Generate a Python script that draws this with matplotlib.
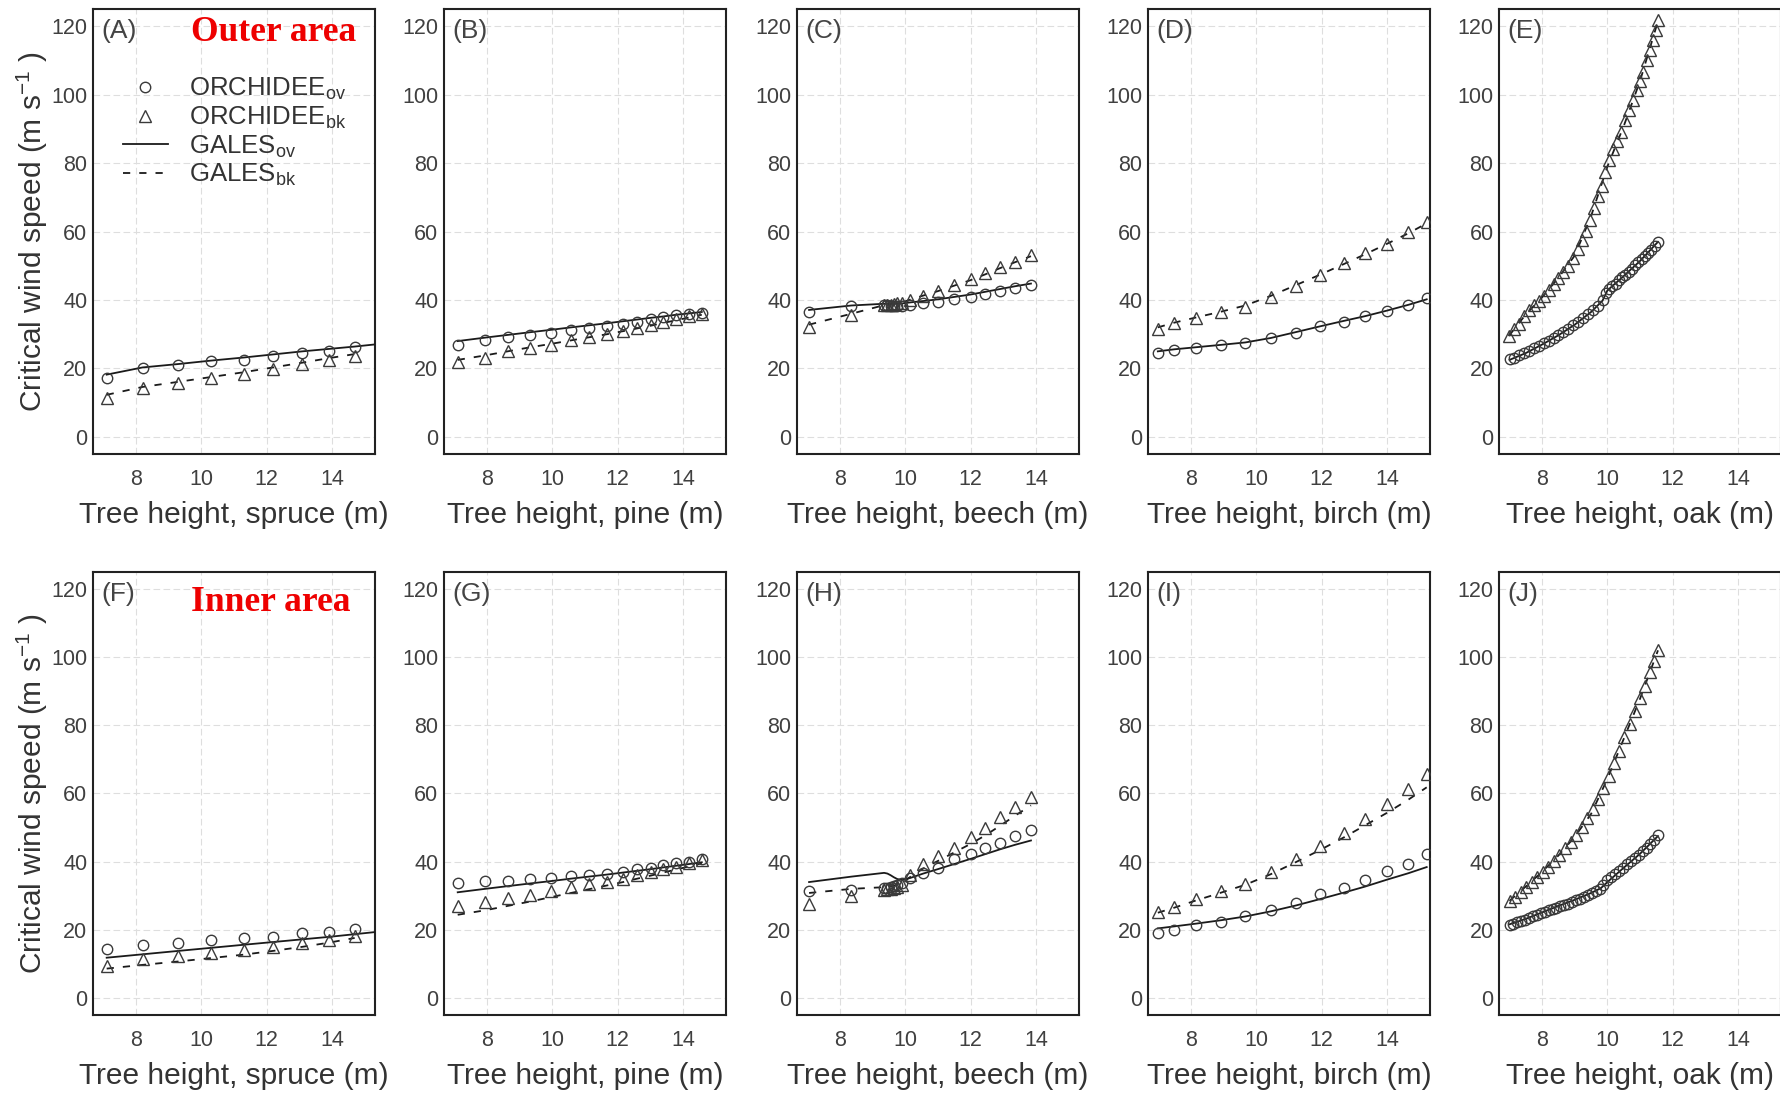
import matplotlib
matplotlib.use('Agg')
import matplotlib.pyplot as plt
from matplotlib.lines import Line2D

plt.rcParams['font.family'] = ['Liberation Sans', 'DejaVu Sans']
plt.rcParams['mathtext.fontset'] = 'custom'
plt.rcParams['mathtext.rm'] = 'Liberation Sans'
plt.rcParams['mathtext.it'] = 'Liberation Sans:italic'

# ---------------- data ----------------
# spruce
spruce_h = [7.1, 8.2, 9.3, 10.3, 11.3, 12.2, 13.1, 13.9, 14.7]
spruce_gales_h = [7.1, 8.2, 9.3, 10.3, 11.3, 12.2, 13.1, 13.9, 14.7, 15.4]
A_orc_ov = [17.1, 20.2, 20.9, 22.1, 22.6, 23.6, 24.5, 25.0, 26.3]
A_orc_bk = [11.4, 14.3, 15.8, 17.1, 18.5, 19.9, 21.3, 22.6, 23.7]
A_gales_ov = [18.2, 20.3, 21.3, 22.3, 23.2, 24.1, 25.0, 25.7, 26.4, 27.1]
A_gales_bk = [12.3, 14.6, 16.1, 17.5, 18.9, 20.3, 21.7, 23.0, 24.2]
F_orc_ov = [14.5, 15.5, 16.2, 17.0, 17.5, 18.0, 19.0, 19.4, 20.1]
F_orc_bk = [9.3, 11.3, 12.3, 13.1, 14.2, 15.0, 16.0, 17.0, 18.2]
F_gales_ov = [11.8, 12.8, 13.8, 14.7, 15.6, 16.4, 17.2, 17.9, 18.7, 19.4]
F_gales_bk = [8.6, 9.7, 10.7, 11.7, 12.7, 13.8, 15.0, 16.2, 17.6]

# pine
pine_h = [7.1, 7.93, 8.63, 9.33, 9.97, 10.57, 11.12, 11.67, 12.17, 12.6, 13.02, 13.4, 13.8, 14.2, 14.58]
B_orc_ov = [27.0, 28.2, 29.2, 29.9, 30.3, 31.3, 31.8, 32.3, 33.1, 33.7, 34.4, 35.0, 35.7, 36.0, 36.2]
B_orc_bk = [21.8, 23.1, 25.0, 26.0, 27.0, 28.2, 29.2, 30.0, 31.0, 31.8, 32.8, 33.7, 34.5, 35.2, 35.9]
B_gales_ov = [28.0, 29.0, 29.8, 30.6, 31.3, 32.0, 32.6, 33.2, 33.8, 34.3, 34.8, 35.2, 35.7, 36.1, 36.5]
B_gales_bk = [22.5, 23.8, 25.0, 26.2, 27.2, 28.2, 29.1, 30.0, 30.9, 31.7, 32.5, 33.3, 34.1, 34.9, 35.7]
G_orc_ov = [33.8, 34.3, 34.3, 35.0, 35.3, 35.8, 36.0, 36.5, 37.0, 37.7, 38.2, 38.9, 39.5, 40.0, 40.7]
G_orc_bk = [27.1, 28.1, 29.4, 30.3, 31.5, 32.5, 33.3, 34.0, 35.0, 36.0, 36.9, 37.7, 38.5, 39.5, 40.4]
G_gales_ov = [31.0, 32.0, 32.8, 33.6, 34.3, 35.0, 35.6, 36.2, 36.8, 37.3, 37.8, 38.3, 38.8, 39.3, 39.8]
G_gales_bk = [24.4, 25.7, 27.0, 28.3, 29.6, 30.8, 31.9, 33.0, 34.0, 35.0, 35.9, 36.8, 37.7, 38.6, 39.5]

# beech
beech_h = [7.05, 8.35, 9.35, 9.45, 9.55, 9.65, 9.75, 9.9, 10.15, 10.55, 11.0, 11.5, 12.0, 12.45, 12.9, 13.35, 13.85]
C_orc_ov = [36.4, 38.3, 38.5, 38.4, 38.3, 38.2, 38.2, 38.3, 38.6, 39.0, 39.5, 40.3, 41.0, 41.8, 42.7, 43.6, 44.4]
C_orc_bk = [32.0, 35.7, 38.4, 38.5, 38.6, 38.8, 39.0, 39.2, 40.0, 41.3, 42.6, 44.4, 46.0, 47.8, 49.7, 51.2, 53.1]
C_gales_ov = [37.1, 38.4, 38.9, 38.9, 38.9, 38.9, 38.9, 39.0, 39.3, 39.7, 40.2, 40.9, 41.6, 42.4, 43.2, 44.0, 44.8]
C_gales_bk = [32.8, 36.0, 38.5, 38.6, 38.7, 38.8, 39.0, 39.3, 40.1, 41.3, 42.6, 44.2, 45.8, 47.5, 49.3, 51.0, 52.8]
H_orc_ov = [31.5, 31.8, 32.3, 32.4, 32.5, 32.7, 33.0, 33.6, 35.3, 36.7, 38.2, 40.7, 42.2, 44.1, 45.4, 47.6, 49.4]
H_orc_bk = [27.6, 29.9, 31.8, 31.9, 32.0, 32.2, 32.5, 33.2, 36.0, 39.2, 41.7, 44.1, 47.1, 50.0, 53.0, 56.0, 58.9]
H_gales_ov = [34.0, 35.6, 36.7, 36.5, 36.0, 35.4, 34.9, 34.6, 35.2, 36.5, 37.8, 39.3, 40.8, 42.2, 43.6, 44.9, 46.2]
H_gales_bk = [30.8, 32.0, 32.5, 32.6, 32.7, 32.9, 33.2, 33.8, 35.5, 38.0, 40.2, 42.7, 45.2, 47.7, 50.5, 53.4, 56.5]

# birch
birch_h = [6.98, 7.49, 8.15, 8.92, 9.66, 10.44, 11.2, 11.95, 12.68, 13.34, 14.0, 14.66, 15.22]
D_orc_ov = [24.5, 25.5, 26.0, 26.9, 27.4, 28.9, 30.5, 32.3, 33.7, 35.2, 36.8, 38.6, 40.5]
D_orc_bk = [31.6, 33.2, 34.7, 36.4, 38.1, 41.0, 44.2, 47.3, 50.7, 53.6, 56.5, 59.9, 62.8]
D_gales_ov = [25.0, 25.6, 26.2, 26.9, 27.6, 28.9, 30.6, 32.3, 33.9, 35.3, 36.9, 38.6, 40.2]
D_gales_bk = [32.0, 33.4, 34.9, 36.6, 38.4, 41.2, 44.3, 47.4, 50.5, 53.4, 56.4, 59.5, 62.4]
I_orc_ov = [19.0, 20.0, 21.4, 22.4, 24.0, 25.9, 27.8, 30.6, 32.2, 34.5, 37.1, 39.4, 42.1]
I_orc_bk = [25.1, 26.6, 29.0, 31.3, 33.5, 36.9, 40.8, 44.5, 48.3, 52.4, 56.8, 61.4, 65.6]
I_gales_ov = [20.4, 21.0, 21.8, 22.8, 23.9, 25.4, 27.1, 29.0, 30.9, 32.7, 34.7, 36.6, 38.4]
I_gales_bk = [25.0, 26.5, 28.6, 30.9, 33.2, 36.3, 39.8, 43.4, 47.1, 50.7, 54.3, 58.2, 61.8]

# oak, outer area
E_ov_h = [7.0, 7.15, 7.3, 7.45, 7.6, 7.75, 7.9, 8.05, 8.2, 8.35, 8.5, 8.65, 8.8, 8.95, 9.1, 9.25, 9.4,
          9.55, 9.7, 9.85, 9.95, 10.05, 10.15, 10.25, 10.35, 10.45, 10.55, 10.65, 10.75, 10.85, 10.95,
          11.05, 11.15, 11.25, 11.35, 11.45, 11.55]
E_orc_ov = [22.7, 23.2, 23.8, 24.5, 25.1, 25.9, 26.6, 27.3, 28.1, 28.9, 29.8, 30.7, 31.6, 32.6, 33.6, 34.7, 35.8,
            37.0, 38.3, 40.0, 42.0, 43.2, 44.0, 44.8, 45.7, 46.6, 47.4, 48.3, 49.2, 50.1, 51.0,
            51.9, 52.8, 53.7, 54.7, 55.8, 57.0]
E_bk_h = [6.98, 7.15, 7.3, 7.45, 7.6, 7.75, 7.9, 8.05, 8.2, 8.35, 8.5, 8.65, 8.8, 8.95, 9.1, 9.22, 9.34, 9.46,
          9.58, 9.7, 9.82, 9.94, 10.06, 10.18, 10.3, 10.42, 10.54, 10.66, 10.78, 10.9, 11.0, 11.1, 11.2,
          11.3, 11.4, 11.48, 11.56]
E_orc_bk = [29.5, 31.4, 33.1, 35.2, 37.0, 38.5, 39.8, 41.3, 43.0, 44.8, 46.5, 48.3, 50.0, 52.3, 55.0, 57.5, 60.2, 63.5,
            67.0, 70.5, 73.3, 77.3, 81.0, 84.1, 86.5, 89.0, 92.5, 95.5, 98.4, 101.5, 104.0, 106.7, 110.0,
            113.0, 116.0, 119.0, 121.8]
E_gales_ov_h = [7.0, 7.5, 8.0, 8.5, 9.0, 9.5, 9.85, 10.0, 10.5, 11.0, 11.55]
E_gales_ov = [22.5, 24.5, 27.0, 29.7, 32.8, 36.5, 39.8, 42.8, 47.0, 51.4, 57.0]
E_gales_bk_h = [6.98, 7.5, 8.0, 8.5, 9.0, 9.5, 10.0, 10.5, 11.0, 11.56]
E_gales_bk = [29.5, 35.8, 40.8, 46.5, 53.0, 64.5, 79.0, 90.8, 104.0, 121.8]

# oak, inner area
J_ov_h = [7.0, 7.12, 7.24, 7.36, 7.48, 7.6, 7.72, 7.84, 7.96, 8.08, 8.2, 8.32, 8.44, 8.56, 8.68, 8.8, 8.92,
          9.04, 9.16, 9.28, 9.4, 9.52, 9.64, 9.76, 9.88, 10.0, 10.12, 10.24, 10.36, 10.48, 10.6, 10.72,
          10.84, 10.96, 11.08, 11.2, 11.32, 11.44, 11.55]
J_orc_ov = [21.4, 21.8, 22.2, 22.6, 23.0, 23.5, 23.9, 24.4, 24.8, 25.3, 25.7, 26.1, 26.5, 26.9, 27.3, 27.7, 28.2,
            28.6, 29.1, 29.7, 30.2, 30.8, 31.3, 32.1, 33.2, 34.5, 35.4, 36.3, 37.3, 38.2, 39.2, 40.1,
            41.0, 42.0, 43.0, 44.1, 45.2, 46.4, 47.7]
J_bk_h = [7.0, 7.17, 7.34, 7.51, 7.68, 7.85, 8.02, 8.19, 8.36, 8.53, 8.7, 8.87, 9.04, 9.21, 9.38, 9.55, 9.72,
          9.88, 10.04, 10.2, 10.36, 10.52, 10.68, 10.84, 11.0, 11.16, 11.3, 11.43, 11.55]
J_orc_bk = [28.3, 29.7, 31.1, 32.5, 33.9, 35.4, 36.9, 38.5, 40.2, 42.0, 43.9, 45.8, 47.9, 50.2, 52.8, 55.5, 58.5,
            61.5, 65.0, 68.8, 72.6, 76.5, 80.3, 84.2, 87.9, 91.6, 95.5, 98.8, 102.0]
J_gales_ov_h = [7.0, 7.5, 8.0, 8.5, 9.0, 9.5, 9.8, 10.0, 10.5, 11.0, 11.55]
J_gales_ov = [21.6, 23.2, 25.1, 27.0, 28.8, 30.8, 32.2, 34.0, 38.2, 42.3, 47.5]
J_gales_bk_h = [7.0, 7.5, 8.0, 8.5, 9.0, 9.5, 10.0, 10.5, 11.0, 11.55]
J_gales_bk = [28.5, 32.7, 37.0, 41.8, 47.3, 54.0, 64.3, 76.0, 87.8, 102.0]

species = ['spruce', 'pine', 'beech', 'birch', 'oak']
letters = ['A', 'B', 'C', 'D', 'E', 'F', 'G', 'H', 'I', 'J']

# (ov x, ov y, bk x, bk y, gales ov x, gales ov y, gales bk x, gales bk y)
panels = [
    (spruce_h, A_orc_ov, spruce_h, A_orc_bk, spruce_gales_h, A_gales_ov, spruce_h, A_gales_bk),
    (pine_h, B_orc_ov, pine_h, B_orc_bk, pine_h, B_gales_ov, pine_h, B_gales_bk),
    (beech_h, C_orc_ov, beech_h, C_orc_bk, beech_h, C_gales_ov, beech_h, C_gales_bk),
    (birch_h, D_orc_ov, birch_h, D_orc_bk, birch_h, D_gales_ov, birch_h, D_gales_bk),
    (E_ov_h, E_orc_ov, E_bk_h, E_orc_bk, E_gales_ov_h, E_gales_ov, E_gales_bk_h, E_gales_bk),
    (spruce_h, F_orc_ov, spruce_h, F_orc_bk, spruce_gales_h, F_gales_ov, spruce_h, F_gales_bk),
    (pine_h, G_orc_ov, pine_h, G_orc_bk, pine_h, G_gales_ov, pine_h, G_gales_bk),
    (beech_h, H_orc_ov, beech_h, H_orc_bk, beech_h, H_gales_ov, beech_h, H_gales_bk),
    (birch_h, I_orc_ov, birch_h, I_orc_bk, birch_h, I_gales_ov, birch_h, I_gales_bk),
    (J_ov_h, J_orc_ov, J_bk_h, J_orc_bk, J_gales_ov_h, J_gales_ov, J_gales_bk_h, J_gales_bk),
]

# ---------------- figure ----------------
fig = plt.figure(figsize=(17.81, 10.93), dpi=100)

lefts = [0.0522, 0.2493, 0.4475, 0.6446, 0.8417]
width = 0.1583
rows = [(0.5846, 0.4071), (0.0714, 0.4053)]

mk_col = '#3a3a3a'
txt_col = '#333333'

for i, p in enumerate(panels):
    r, c = divmod(i, 5)
    ax = fig.add_axes([lefts[c], rows[r][0], width, rows[r][1]])
    ovx, ovy, bkx, bky, gox, goy, gbx, gby = p

    ax.plot(gox, goy, color='#1a1a1a', lw=1.3, zorder=3)
    ax.plot(gbx, gby, color='#1a1a1a', lw=1.3, dashes=(4, 5), zorder=3)
    ax.plot(ovx, ovy, 'o', ms=7.5, mfc='none', mec=mk_col, mew=1.0, zorder=4)
    ax.plot(bkx, bky, '^', ms=8.5, mfc='none', mec=mk_col, mew=1.0, zorder=4)

    ax.set_xlim(6.68, 15.32)
    ax.set_ylim(-5, 125)
    ax.set_xticks([8, 10, 12, 14])
    ax.set_yticks([0, 20, 40, 60, 80, 100, 120])
    ax.grid(True, color='#dedede', lw=0.8, dashes=(6, 3))
    ax.set_axisbelow(True)
    ax.tick_params(length=0, labelsize=15.5, labelcolor='#404040')
    ax.tick_params(axis='x', pad=11)
    ax.tick_params(axis='y', pad=4)
    for s in ax.spines.values():
        s.set_linewidth(1.5)
        s.set_color('#222222')

    ax.set_xlabel('Tree height, %s (m)' % species[c], fontsize=21.5, color=txt_col, labelpad=8)
    if c == 0:
        ax.set_ylabel(r'Critical wind speed (m s$^{-1}$ )', fontsize=21.5, color=txt_col, labelpad=1)

    ax.text(0.03, 0.978, '(%s)' % letters[i], transform=ax.transAxes, fontsize=19,
            color='#444444', ha='left', va='top')

    if i == 0:
        ax.text(0.64, 0.948, 'Outer area', transform=ax.transAxes, fontsize=25.5,
                color='#ee0000', fontweight='bold', family='Liberation Serif',
                ha='center', va='center')
        handles = [
            Line2D([], [], ls='none', marker='o', ms=7.5, mfc='none', mec=mk_col, mew=1.0),
            Line2D([], [], ls='none', marker='^', ms=8.5, mfc='none', mec=mk_col, mew=1.0),
            Line2D([], [], color='#1a1a1a', lw=1.3),
            Line2D([], [], color='#1a1a1a', lw=1.3, dashes=(4, 5)),
        ]
        labels = [r'ORCHIDEE$_{\mathrm{ov}}$', r'ORCHIDEE$_{\mathrm{bk}}$',
                  r'GALES$_{\mathrm{ov}}$', r'GALES$_{\mathrm{bk}}$']
        leg = ax.legend(handles, labels, loc='upper left', bbox_to_anchor=(0.105, 0.85),
                        frameon=False, fontsize=18.5, handlelength=1.75, handletextpad=0.85,
                        labelspacing=0.1, borderpad=0, borderaxespad=0)
        for t in leg.get_texts():
            t.set_color(txt_col)
    if i == 5:
        ax.text(0.63, 0.932, 'Inner area', transform=ax.transAxes, fontsize=25.5,
                color='#ee0000', fontweight='bold', family='Liberation Serif',
                ha='center', va='center')

fig.savefig('out.png', dpi=100)
